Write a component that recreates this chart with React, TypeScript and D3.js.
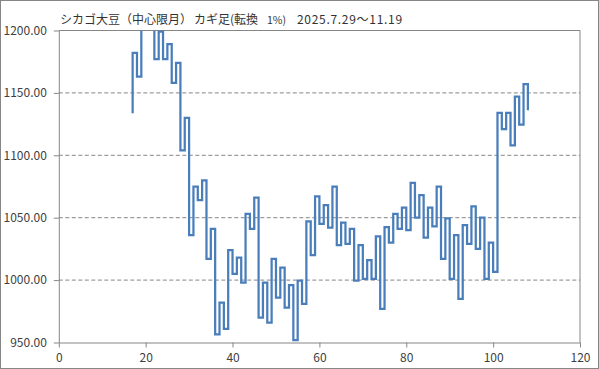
import { useRef, useEffect } from 'react'
import { select, scaleLinear, axisBottom, axisLeft, line, format } from 'd3'

const Settings = {
  width: 599,
  height: 369,
  left: 58.8,
  right: 580,
  top: 30.5,
  bottom: 342.5,
  lineColor: '#4a7ebb',
  axisColor: '#868686',
  textColor: '#404040',
}

// kagi chart: starts at index 17, each entry is the level the vertical line turns at
const startIndex = 17
const startValue = 1133.6
const levels = [
  1182, 1163, 1215, 1206, 1222, 1177, 1199, 1177, 1189, 1158,
  1174, 1104, 1130, 1036, 1075, 1064, 1080, 1017, 1041, 956.5,
  982, 961, 1024, 1005, 1018, 998, 1053, 1041, 1066, 970,
  998, 966, 1017, 986, 1010, 978, 996, 952, 999.5, 981,
  1047, 1020, 1067, 1045, 1060, 1042, 1075, 1028, 1046, 1029,
  1041, 999.5, 1028, 1001, 1016, 1001, 1035, 977, 1042.5, 1030,
  1053, 1041, 1058, 1040, 1078, 1050, 1068, 1034, 1058, 1043,
  1075, 1017, 1049.5, 1001, 1036, 985, 1044, 1029, 1059, 1025,
  1050, 1001, 1030, 1006.5, 1134, 1121, 1134, 1108, 1147, 1124.5,
  1157, 1136,
]

const xTicks = [0, 20, 40, 60, 80, 100, 120]
const yTicks = [950, 1000, 1050, 1100, 1150, 1200]
const gridTicks = [1000, 1050, 1100, 1150]

export default function App() {
  const gRef = useRef<SVGGElement>(null)

  useEffect(() => {
    const g = select(gRef.current)
    g.selectAll('*').remove()

    const xScale = scaleLinear().domain([0, 120]).range([Settings.left, Settings.right])
    const yScale = scaleLinear().domain([950, 1200]).range([Settings.bottom, Settings.top])

    // dashed gridlines
    g.append('g')
      .selectAll('line')
      .data(gridTicks)
      .join('line')
      .attr('x1', Settings.left).attr('x2', Settings.right)
      .attr('y1', d => yScale(d)).attr('y2', d => yScale(d))
      .attr('stroke', Settings.axisColor)
      .attr('stroke-dasharray', '4,2.5')

    // plot area border (top + right)
    g.append('path')
      .attr('d', `M${Settings.left},${Settings.top}H${Settings.right}V${Settings.bottom}`)
      .attr('fill', 'none').attr('stroke', Settings.axisColor)

    // build kagi step points
    const pts: [number, number][] = [[startIndex, startValue]]
    levels.forEach((v, i) => {
      const x = startIndex + i
      if (i > 0) pts.push([x, levels[i - 1]])
      pts.push([x, v])
    })

    g.append('clipPath').attr('id', 'plotClip')
      .append('rect')
      .attr('x', Settings.left).attr('y', Settings.top)
      .attr('width', Settings.right - Settings.left)
      .attr('height', Settings.bottom - Settings.top)

    const kagiLine = line<[number, number]>()
      .x(d => xScale(d[0]))
      .y(d => yScale(d[1]))

    g.append('path')
      .datum(pts)
      .attr('clip-path', 'url(#plotClip)')
      .attr('d', kagiLine)
      .attr('fill', 'none')
      .attr('stroke', Settings.lineColor)
      .attr('stroke-width', 2.25)
      .attr('stroke-linejoin', 'miter')

    const yAxis = g.append('g')
      .attr('transform', `translate(${Settings.left},0)`)
      .call(axisLeft(yScale).tickValues(yTicks).tickFormat(format('.2f')).tickSize(5).tickSizeOuter(0).tickPadding(7))
    const xAxis = g.append('g')
      .attr('transform', `translate(0,${Settings.bottom})`)
      .call(axisBottom(xScale).tickValues(xTicks).tickSize(5).tickSizeOuter(0).tickPadding(6))

    ;[yAxis, xAxis].forEach(ax => {
      ax.select('.domain').attr('stroke', Settings.axisColor)
      ax.selectAll('.tick line').attr('stroke', Settings.axisColor)
      ax.selectAll('.tick text')
        .attr('fill', Settings.textColor)
        .style('font-family', '"Noto Sans CJK JP", "Liberation Sans", sans-serif')
        .style('font-size', '12px')
    })
  }, [])

  return (
    <svg width={Settings.width} height={Settings.height}
      style={{ position: 'absolute', left: 0, top: 0 }}>
      <rect x={0.5} y={0.5} width={Settings.width - 1} height={Settings.height - 1}
        fill="#fff" stroke={Settings.axisColor} />
      <g ref={gRef} />
      <text y={24} fill="#333" style={{ fontFamily: '"Noto Sans CJK JP", sans-serif', fontSize: 12 }}>
        <tspan x={60}>シカゴ大豆（中心限月）</tspan>
        <tspan x={194}>カギ足(転換</tspan>
        <tspan x={267} style={{ fontSize: 10.5 }}>1%)</tspan>
        <tspan x={297} style={{ fontSize: 12, letterSpacing: 0.7 }}>2025.7.29〜11.19</tspan>
      </text>
    </svg>
  )
}
